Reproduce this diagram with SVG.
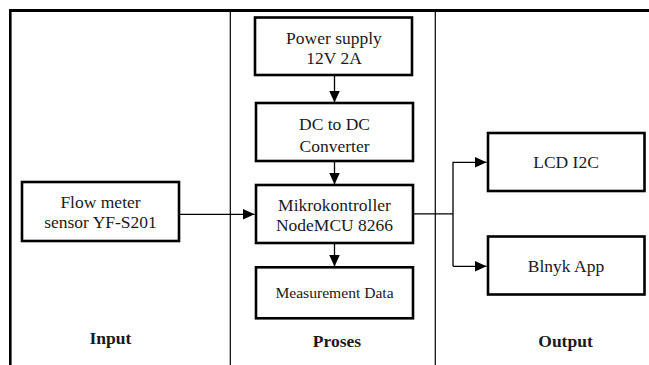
<svg xmlns="http://www.w3.org/2000/svg" width="649" height="365" viewBox="0 0 649 365">
<style>
.box{fill:#fff;stroke:#000;stroke-width:2.6}
.t{font-family:'Liberation Serif',Tinos,Times,'DejaVu Serif',serif;font-size:17.5px;fill:#1a1a1a;text-anchor:middle}
.s{font-size:15.6px}
.b{font-weight:bold}
.c{fill:none;stroke:#000;stroke-width:1.3}
.frame{fill:none;stroke:#000}
</style>
<defs>
<marker id="ah" markerUnits="userSpaceOnUse" markerWidth="12" markerHeight="12" viewBox="0 0 12 12" refX="12" refY="6" orient="auto">
<path d="M0,0.5 L12,6 L0,11.5 Z" fill="#000"/>
</marker>
</defs>
<g id="frame">
<line class="frame" x1="10.3" y1="9.2" x2="10.3" y2="365" stroke-width="2.6"/>
<line class="frame" x1="9" y1="10.5" x2="649" y2="10.5" stroke-width="2.8"/>
<line class="frame" x1="230.3" y1="12" x2="230.3" y2="365" stroke-width="1.2"/>
<line class="frame" x1="435.3" y1="12" x2="435.3" y2="365" stroke-width="1.2"/>
</g>
<g id="connectors">
<line class="c" x1="334.5" y1="75" x2="334.5" y2="102.5" marker-end="url(#ah)"/>
<line class="c" x1="334.5" y1="161" x2="334.5" y2="184.5" marker-end="url(#ah)"/>
<line class="c" x1="334.5" y1="243" x2="334.5" y2="266.5" marker-end="url(#ah)"/>
<line class="c" x1="179" y1="214.3" x2="254.5" y2="214.3" marker-end="url(#ah)"/>
<polyline class="c" points="413,213.8 453,213.8"/>
<polyline class="c" points="453,266.3 453,162.3 486.5,162.3" marker-end="url(#ah)"/>
<polyline class="c" points="453,266.3 486.5,266.3" marker-end="url(#ah)"/>
</g>
<g id="power">
<rect class="box" x="255" y="17.5" width="157" height="57.5"/>
<text class="t" x="334" y="44">Power supply</text>
<text class="t" x="334" y="64">12V 2A</text>
</g>
<g id="dcdc">
<rect class="box" x="256" y="103" width="157" height="58"/>
<text class="t" x="334.5" y="130">DC to DC</text>
<text class="t" x="334.5" y="152">Converter</text>
</g>
<g id="mcu">
<rect class="box" x="256" y="185" width="157" height="58"/>
<text class="t" x="334.5" y="211">Mikrokontroller</text>
<text class="t" x="334.5" y="230.5">NodeMCU 8266</text>
</g>
<g id="measurement">
<rect class="box" x="256" y="267.3" width="157" height="51"/>
<text class="t s" x="334.5" y="298.3">Measurement Data</text>
</g>
<g id="flow">
<rect class="box" x="22" y="182" width="157" height="59"/>
<text class="t" x="100.5" y="208">Flow meter</text>
<text class="t" x="100.5" y="228">sensor YF-S201</text>
</g>
<g id="lcd">
<rect class="box" x="488" y="133" width="156.5" height="58"/>
<text class="t" x="566" y="168.3">LCD I2C</text>
</g>
<g id="blynk">
<rect class="box" x="488" y="236.5" width="156.5" height="58"/>
<text class="t" x="566" y="272">Blnyk App</text>
</g>
<g id="labels">
<text class="t b" x="110.3" y="344">Input</text>
<text class="t b" x="337" y="347.3">Proses</text>
<text class="t b" x="565.5" y="346.5">Output</text>
</g>
</svg>
